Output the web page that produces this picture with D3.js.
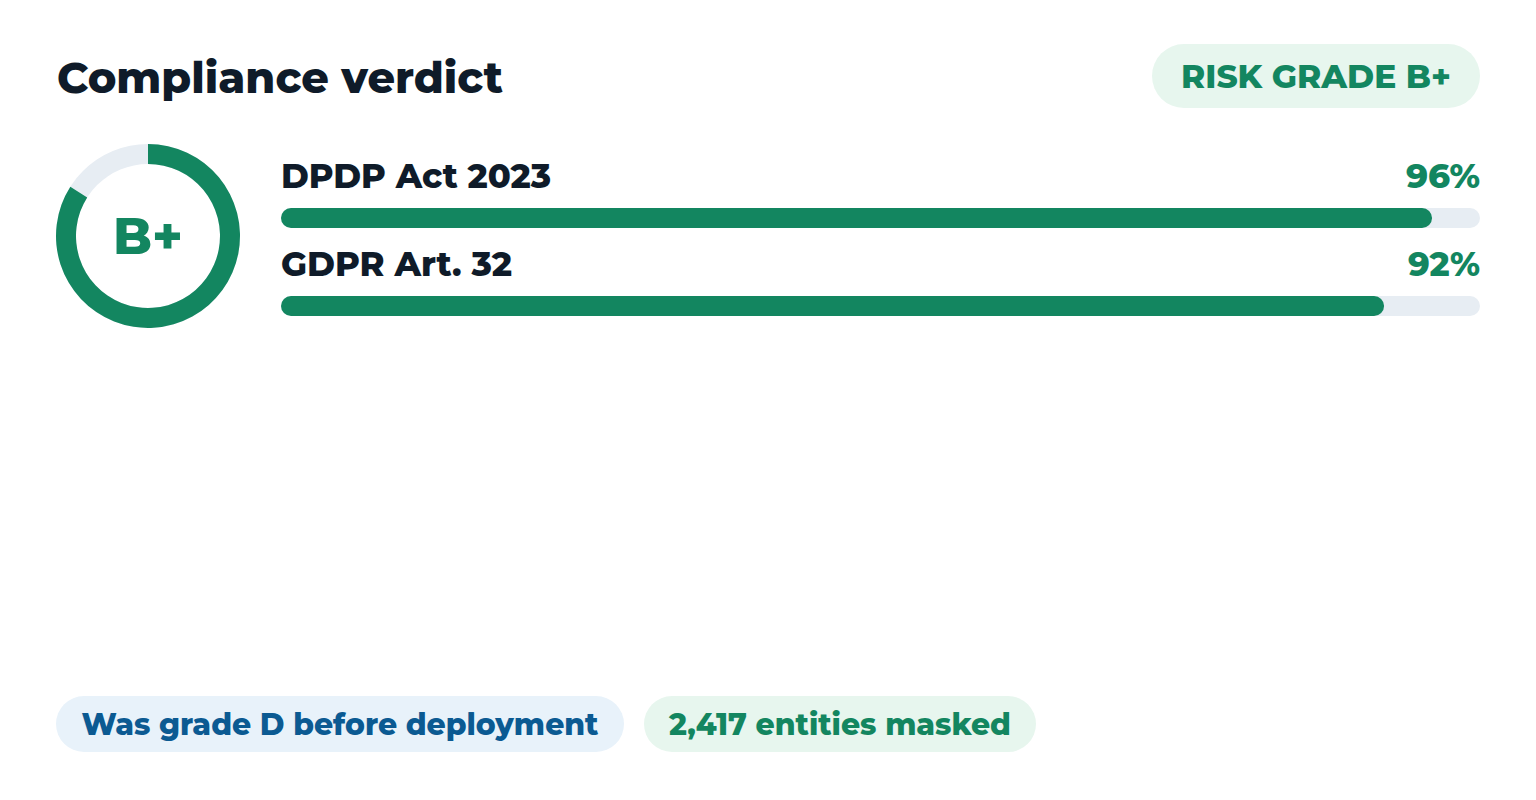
<!DOCTYPE html>
<html>
<head>
<meta charset="utf-8">
<script src="https://cdn.jsdelivr.net/npm/d3@7"></script>
<style>
  html, body { margin: 0; padding: 0; background: #ffffff; }
  svg { display: block; }
  text { font-family: Montserrat, "DejaVu Sans", sans-serif; font-weight: 800; }
</style>
</head>
<body>
<svg id="chart" width="1536" height="800"></svg>
<script>
// ---- data ----
const titleText = "Compliance verdict";
const gradeBadge = "RISK GRADE B+";
const grade = "B+";
const gradeScore = 84; // percent of ring filled
const frameworks = ["DPDP Act 2023", "GDPR Art. 32"];
const frameworkScores = [96, 92];
const footnotes = ["Was grade D before deployment", "2,417 entities masked"];
const footnoteKinds = ["blue", "green"];

// ---- style ----
const GREEN = "#138660";
const GREEN_BG = "#e7f6ee";
const BLUE = "#0b5a92";
const BLUE_BG = "#e8f2fa";
const TRACK = "#e7edf3";
const DARK = "#0f1b29";

const svg = d3.select("#chart");

function fitWidth(sel, w) {
  const node = sel.node();
  const fs = parseFloat(sel.attr("font-size"));
  const cur = node.getComputedTextLength();
  if (cur > 0) sel.attr("font-size", (fs * w / cur).toFixed(2));
}

// title
const title = svg.append("text").attr("x", 57).attr("y", 93)
  .attr("font-size", 38).attr("fill", DARK).text(titleText);
fitWidth(title, 446);

// risk badge
svg.append("rect").attr("x", 1152).attr("y", 44).attr("width", 328).attr("height", 64)
  .attr("rx", 32).attr("fill", GREEN_BG);
const badge = svg.append("text").attr("x", 1316).attr("y", 88).attr("text-anchor", "middle")
  .attr("font-size", 28).attr("fill", GREEN).text(gradeBadge);
fitWidth(badge, 270);

// donut
const cx = 148, cy = 236, rOuter = 92, rInner = 72;
const angle = d3.scaleLinear().domain([0, 100]).range([0, 2 * Math.PI]);
const arc = d3.arc().innerRadius(rInner).outerRadius(rOuter);
const g = svg.append("g").attr("transform", `translate(${cx},${cy})`);
g.append("path").attr("d", arc({startAngle: 0, endAngle: 2 * Math.PI})).attr("fill", TRACK);
g.append("path").attr("d", arc({startAngle: 0, endAngle: angle(gradeScore)})).attr("fill", GREEN);
const gt = g.append("text").attr("x", 0).attr("y", 18).attr("text-anchor", "middle")
  .attr("font-size", 48).attr("fill", GREEN).text(grade);
fitWidth(gt, 70);

// bars
const x = d3.scaleLinear().domain([0, 100]).range([281, 1480]);
const rowY = d3.scalePoint().domain(frameworks).range([0, 88]);
const barH = 20;
const labelW = [270, 231], pctW = [74, 72];
frameworks.forEach((name, i) => {
  const y0 = 188 + rowY(name);
  const lab = svg.append("text").attr("x", x(0)).attr("y", y0)
    .attr("font-size", 30).attr("fill", DARK).text(name);
  fitWidth(lab, labelW[i]);
  const pct = svg.append("text").attr("x", x(100)).attr("y", y0).attr("text-anchor", "end")
    .attr("font-size", 30).attr("fill", GREEN).text(frameworkScores[i] + "%");
  fitWidth(pct, pctW[i]);
  svg.append("rect").attr("x", x(0)).attr("y", y0 + 20).attr("width", x(100) - x(0))
    .attr("height", barH).attr("rx", barH / 2).attr("fill", TRACK);
  svg.append("rect").attr("x", x(0)).attr("y", y0 + 20).attr("width", x(frameworkScores[i]) - x(0))
    .attr("height", barH).attr("rx", barH / 2).attr("fill", GREEN);
});

// footnote pills
const pillX = [56, 644], pillW = [568, 392], textW = [517, 342];
footnotes.forEach((t, i) => {
  const blue = footnoteKinds[i] === "blue";
  svg.append("rect").attr("x", pillX[i]).attr("y", 696).attr("width", pillW[i]).attr("height", 56)
    .attr("rx", 28).attr("fill", blue ? BLUE_BG : GREEN_BG);
  const tx = svg.append("text").attr("x", pillX[i] + pillW[i] / 2).attr("y", 735)
    .attr("text-anchor", "middle").attr("font-size", 26)
    .attr("fill", blue ? BLUE : GREEN).text(t);
  fitWidth(tx, textW[i]);
});
</script>
</body>
</html>
